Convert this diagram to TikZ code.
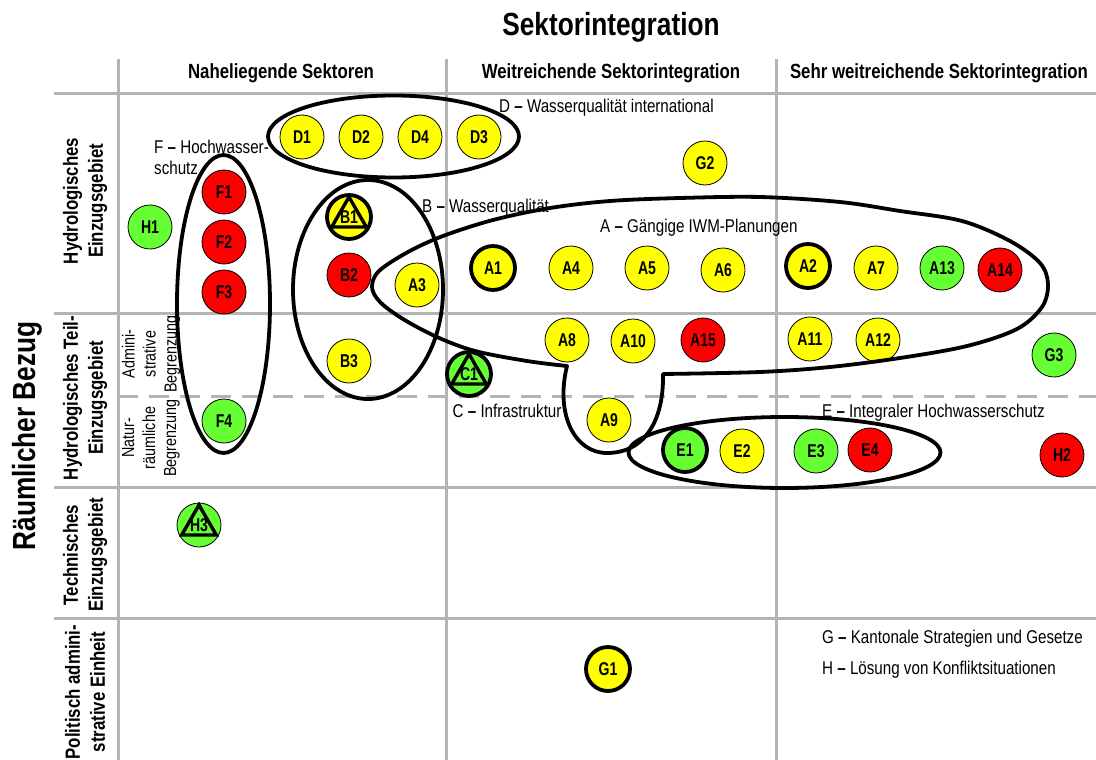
\documentclass[tikz,border=0pt]{standalone}
\usepackage{fontspec}
\setmainfont{Liberation Sans}[FakeStretch=0.82]
\newfontfamily\bubfont{Liberation Sans}[FakeStretch=0.76]
\usetikzlibrary{calc}
\definecolor{gridgray}{HTML}{B4B4B4}
\definecolor{bubyellow}{HTML}{FFFF00}
\definecolor{bubred}{HTML}{FF0000}
\definecolor{bubgreen}{HTML}{66FF33}
% bold dash used in the group captions
\newcommand\gdash{{\bfseries –}}

\begin{document}
\begin{tikzpicture}[x=1pt,y=-1pt,
  gridline/.style={gridgray, line width=3pt},
  gridsplit/.style={gridgray, line width=3pt, dash pattern=on 20pt off 11pt},
  bub/.style={circle, draw=black, line width=0.8pt, minimum size=44pt, inner sep=0pt,
              font=\bubfont\fontsize{18.5}{20}\selectfont\bfseries},
  yel/.style={bub, fill=bubyellow},
  rd/.style={bub, fill=bubred},
  gr/.style={bub, fill=bubgreen},
  keyring/.style={line width=3.8pt},
  tri/.style={draw=black, line width=3.4pt, line join=miter},
  group/.style={draw=black, line width=3.8pt, line join=round},
  note/.style={font=\fontsize{18.5}{21}\selectfont, inner sep=0pt, anchor=base west},
  head/.style={font=\fontsize{20.5}{24}\selectfont\bfseries, inner sep=0pt, anchor=base},
  rowlab/.style={rotate=90, align=center, inner sep=0pt,
                 font=\fontsize{20.5}{25}\selectfont\bfseries},
  sublab/.style={rotate=90, align=center, inner sep=0pt,
                 font=\fontsize{17.5}{21}\selectfont},
]
\fill[white] (0,0) rectangle (1096,760);
\useasboundingbox (0,0) rectangle (1096,760);

% ---- table grid ----
\draw[gridline] (118,59) -- (118,760);
\draw[gridline] (446,59) -- (446,760);
\draw[gridline] (776,59) -- (776,760);
\draw[gridline] (54,94) -- (1096,94);
\draw[gridline] (54,313) -- (1096,313);
\draw[gridline] (54,487) -- (1096,487);
\draw[gridline] (54,618) -- (1096,618);
\draw[gridsplit] (118,396) -- (1096,396);

% ---- axis titles and headers ----
\node[head, font=\fontsize{32}{38}\selectfont\bfseries] (title) at (611,36) {Sektorintegration};
\node[head] (col1) at (281,78) {Naheliegende Sektoren};
\node[head] (col2) at (611,78) {Weitreichende Sektorintegration};
\node[head] (col3) at (939,78) {Sehr weitreichende Sektorintegration};

\node[rotate=90, inner sep=0pt, font=\fontsize{32}{38}\selectfont\bfseries] (ytitle) at (27,436) {Räumlicher Bezug};
\node[rowlab] (row1) at (85,201) {Hydrologisches\\Einzugsgebiet};
\node[rowlab] (row2) at (85,398) {Hydrologisches Teil-\\Einzugsgebiet};
\node[rowlab] (row3) at (85,555) {Technisches\\Einzugsgebiet};
\node[rowlab] (row4) at (85,692) {Politisch admini-\\strative Einheit};
\node[sublab] (subA) at (151,354) {Admini-\\strative\\Begrenzung};
\node[sublab] (subN) at (151,438) {Natur-\\räumliche\\Begrenzung};

% ---- group labels ----
\node[note] (labD) at (499,113) {D \gdash{} Wasserqualität international};
\node[note] (labA) at (600,232.5) {A \gdash{} Gängige IWM-Planungen};
\node[note] (labB) at (422,212) {B \gdash{} Wasserqualität};
\node[note] (labC) at (452.5,417.5) {C \gdash{} Infrastruktur};
\node[note] (labE) at (822,417) {E \gdash{} Integraler Hochwasserschutz};
\node[note, align=left, anchor=north west] (labF) at (154,139.5) {F \gdash{} Hochwasser-\\schutz};
\node[note] (labG) at (822,643.5) {G \gdash{} Kantonale Strategien und Gesetze};
\node[note] (labH) at (822,674) {H \gdash{} Lösung von Konfliktsituationen};

% ---- measures ----
\node[yel] (D1) at (302,137) {D1};
\node[yel] (D2) at (361,137) {D2};
\node[yel] (D4) at (420,137) {D4};
\node[yel] (D3) at (479,137) {D3};
\node[yel] (G2) at (705,163) {G2};

\node[gr] (H1) at (150,227) {H1};
\node[rd] (F1) at (224,192) {F1};
\node[rd] (F2) at (224,242) {F2};
\node[rd] (F3) at (224,292) {F3};
\node[gr] (F4) at (224,421) {F4};

\node[yel, keyring] (B1) at (349,217) {B1};
\node[rd] (B2) at (349,275) {B2};
\node[yel] (B3) at (349,361) {B3};
\node[yel] (A3) at (417,285) {A3};

\node[yel, keyring] (A1) at (493,268) {A1};
\node[yel] (A4) at (571,268) {A4};
\node[yel] (A5) at (647,268) {A5};
\node[yel] (A6) at (723,270) {A6};
\node[yel, keyring] (A2) at (808,266) {A2};
\node[yel] (A7) at (876,268) {A7};
\node[gr] (A13) at (942,268) {A13};
\node[rd] (A14) at (1000,270) {A14};

\node[gr, keyring] (C1) at (469,374) {C1};
\node[yel] (A8) at (567,340) {A8};
\node[yel] (A10) at (633,341) {A10};
\node[rd] (A15) at (703,340) {A15};
\node[yel] (A11) at (810,339) {A11};
\node[yel] (A12) at (878,340) {A12};
\node[gr] (G3) at (1054,355) {G3};
\node[yel] (A9) at (609,420) {A9};

\node[gr, keyring] (E1) at (685,450) {E1};
\node[yel] (E2) at (742,451) {E2};
\node[gr] (E3) at (816,451) {E3};
\node[rd] (E4) at (870,450) {E4};
\node[rd] (H2) at (1062,455) {H2};

\node[gr] (H3) at (199,525) {H3};
\node[yel, keyring] (G1) at (608,669) {G1};

% triangle marks on selected measures
\foreach \n in {B1,C1,H3}
  \draw[tri] ($(\n)+(0,-20)$) -- ($(\n)+(17.3,10)$) -- ($(\n)+(-17.3,10)$) -- cycle;

% ---- group outlines ----
\draw[group] (393.5,136.5) ellipse [x radius=125.5, y radius=41];
\draw[group] (223.5,304) ellipse [x radius=46.5, y radius=149];
\draw[group] (368,289.5) ellipse [x radius=75, y radius=109.5];
\draw[group] (784.5,452.5) ellipse [x radius=156, y radius=35.5];
\draw[group] plot[smooth, tension=0.55] coordinates {
    (567,366) (527,361) (475,351) (437,337) (403,319) (380,302) (372,287)
    (379,271) (408,252) (443,236) (493,220) (550,208) (610,201) (680,198)
    (760,197) (840,202) (900,211) (962,221) (1010,241) (1040,263) (1048,284)
    (1042,307) (1017,329) (967,346) (900,358) (830,367) (760,372) (663,374)}
  .. controls (664,420) and (645,453) .. (607,453)
  .. controls (575,453) and (555,415) .. (567,366) -- cycle;
\end{tikzpicture}
\end{document}
